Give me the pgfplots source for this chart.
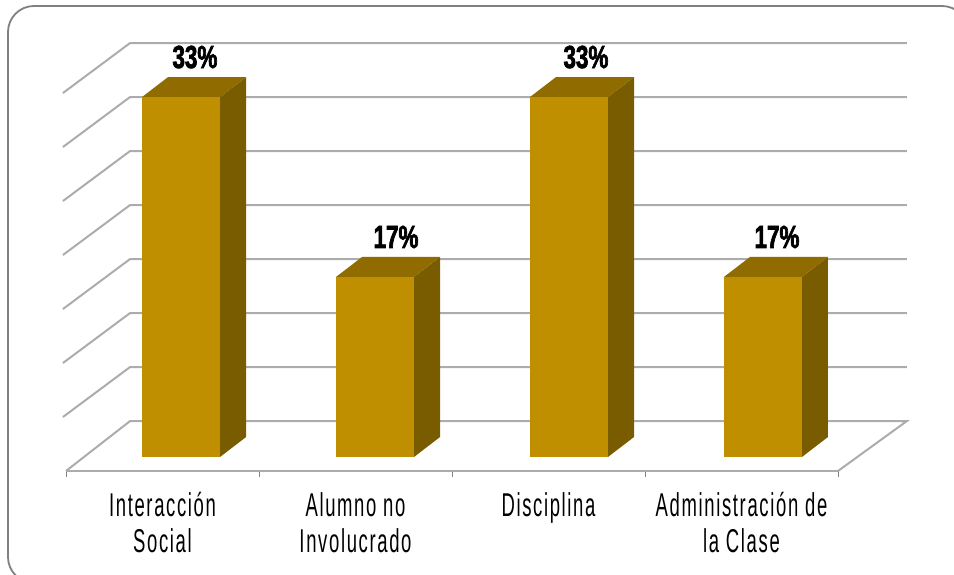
\documentclass[border=0pt]{standalone}
\usepackage{fontspec}
\usepackage{pgfplots}
\pgfplotsset{compat=1.18}
\setmainfont[FakeStretch=0.56,LetterSpace=5]{Liberation Sans}
\newfontfamily\lab[FakeStretch=0.70,FakeBold=2]{Liberation Sans Bold}
\definecolor{barF}{RGB}{191,143,0}
\definecolor{barT}{RGB}{143,107,0}
\definecolor{barS}{RGB}{122,92,0}
\definecolor{gridc}{RGB}{172,172,172}
\definecolor{framec}{RGB}{128,128,128}
\begin{document}
\begin{tikzpicture}[x=1pt,y=1pt]
\path[use as bounding box] (0,0) rectangle (954,575);
\begin{scope}
\clip (0,0) rectangle (954,575);
\draw[framec,line width=1.8pt,rounded corners=26pt] (8,-8) rectangle (968,569);
\end{scope}
\begin{axis}[
  at={(66pt,104pt)},anchor=south west,
  x=193pt,y=10.8pt,
  xmin=0,xmax=4,ymin=-1.296,ymax=40,
  clip=false,
  axis y line=none,
  axis x line=bottom,
  x axis line style={-,draw=gridc,line width=2pt},
  xtick={0.5,1.5,2.5,3.5},
  xticklabels={{Interacción\\Social},{Alumno no\\Involucrado},{Disciplina},{Administración de\\la Clase}},
  x tick label style={align=center,font=\fontsize{33}{36}\selectfont,anchor=north,inner sep=0pt,yshift=-21pt},
  major tick length=0pt,
  minor xtick={0,1,2,3,4},
  minor tick length=6pt,
  tick align=outside,
  every minor tick/.style={draw=framec,line width=0.8pt},
]
% back wall and floor grid lines
\addplot[gridc,line width=2pt,no markers] coordinates {(-0.016,33.70)(0.332,38.33)(4.357,38.33)};
\addplot[gridc,line width=2pt,no markers] coordinates {(-0.016,28.70)(0.332,33.33)(4.357,33.33)};
\addplot[gridc,line width=2pt,no markers] coordinates {(-0.016,23.70)(0.332,28.33)(4.357,28.33)};
\addplot[gridc,line width=2pt,no markers] coordinates {(-0.016,18.70)(0.332,23.33)(4.357,23.33)};
\addplot[gridc,line width=2pt,no markers] coordinates {(-0.016,13.70)(0.332,18.33)(4.357,18.33)};
\addplot[gridc,line width=2pt,no markers] coordinates {(-0.016,8.70)(0.332,13.33)(4.357,13.33)};
\addplot[gridc,line width=2pt,no markers] coordinates {(-0.016,3.70)(0.332,8.33)(4.357,8.33)};
\addplot[gridc,line width=2pt,no markers] coordinates {(0,-1.296)(0.332,3.33)(4.357,3.33)(4,-1.296)};
% bar 1
\addplot[fill=barS,draw=none] coordinates {(0.798,0)(0.933,1.85)(0.933,35.18)(0.798,33.33)} -- cycle;
\addplot[fill=barT,draw=none] coordinates {(0.394,33.33)(0.529,35.18)(0.933,35.18)(0.798,33.33)} -- cycle;
\addplot[fill=barF,draw=none] coordinates {(0.394,0)(0.798,0)(0.798,33.33)(0.394,33.33)} -- cycle;
% bar 2
\addplot[fill=barS,draw=none] coordinates {(1.803,0)(1.938,1.85)(1.938,18.52)(1.803,16.67)} -- cycle;
\addplot[fill=barT,draw=none] coordinates {(1.399,16.67)(1.534,18.52)(1.938,18.52)(1.803,16.67)} -- cycle;
\addplot[fill=barF,draw=none] coordinates {(1.399,0)(1.803,0)(1.803,16.67)(1.399,16.67)} -- cycle;
% bar 3
\addplot[fill=barS,draw=none] coordinates {(2.808,0)(2.943,1.85)(2.943,35.18)(2.808,33.33)} -- cycle;
\addplot[fill=barT,draw=none] coordinates {(2.404,33.33)(2.539,35.18)(2.943,35.18)(2.808,33.33)} -- cycle;
\addplot[fill=barF,draw=none] coordinates {(2.404,0)(2.808,0)(2.808,33.33)(2.404,33.33)} -- cycle;
% bar 4
\addplot[fill=barS,draw=none] coordinates {(3.813,0)(3.948,1.85)(3.948,18.52)(3.813,16.67)} -- cycle;
\addplot[fill=barT,draw=none] coordinates {(3.409,16.67)(3.544,18.52)(3.948,18.52)(3.813,16.67)} -- cycle;
\addplot[fill=barF,draw=none] coordinates {(3.409,0)(3.813,0)(3.813,16.67)(3.409,16.67)} -- cycle;
% data labels
\addplot[draw=none,no markers,
  point meta=explicit symbolic,
  nodes near coords,
  every node near coord/.style={anchor=center,yshift=40pt,inner sep=0pt,font=\lab\fontsize{32}{36}\selectfont}]
  coordinates {(0.668,33.33)[33\%] (1.710,16.67)[17\%] (2.694,33.33)[33\%] (3.684,16.67)[17\%]};
\end{axis}
\end{tikzpicture}
\end{document}
